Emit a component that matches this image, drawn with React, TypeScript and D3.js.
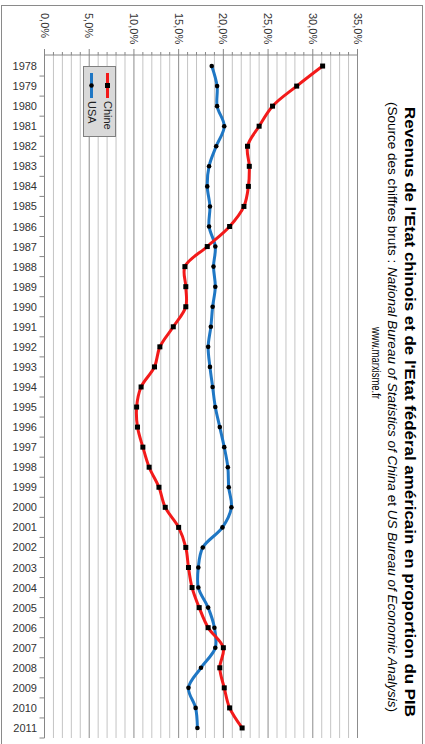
import React from "react";
import * as d3 from "d3";

const years = [1978,1979,1980,1981,1982,1983,1984,1985,1986,1987,1988,1989,1990,1991,1992,1993,1994,1995,1996,1997,1998,1999,2000,2001,2002,2003,2004,2005,2006,2007,2008,2009,2010,2011];
const chine = [31.1,28.2,25.5,24.0,22.7,22.9,22.8,22.3,20.7,18.2,15.7,15.8,15.8,14.4,12.9,12.3,10.8,10.3,10.4,11.0,11.7,12.8,13.5,15.0,15.8,16.1,16.5,17.3,18.3,20.0,19.6,20.1,20.7,22.1];
const usa = [18.7,19.3,19.3,20.1,19.2,18.4,18.2,18.5,18.4,19.1,18.9,19.1,18.8,18.6,18.3,18.5,18.8,19.1,19.6,20.1,20.5,20.6,20.9,19.9,17.7,17.2,17.2,18.3,19.0,19.1,17.5,16.1,16.9,17.1];
const majorTicks = [0,5,10,15,20,25,30,35];
const tickLabels = ["0,0%","5,0%","10,0%","15,0%","20,0%","25,0%","30,0%","35,0%"];
const seriesNames = ["Chine","USA"];
const title = "Revenus de l'Etat chinois et de l'Etat fédéral américain en proportion du PIB";
const website = "www.marxisme.fr";

export default function App() {
  const x = d3.scaleLinear().domain([0, 35]).range([44.5, 357.5]);
  const y = d3.scaleBand<number>().domain(years).range([56, 738]).padding(0);
  const bw = y.bandwidth();
  const cy = (yr: number) => (y(yr) as number) + bw / 2;
  const line = d3.line<number>()
    .x((d) => x(d))
    .y((_, i) => cy(years[i]))
    .curve(d3.curveCatmullRom.alpha(0.5));
  const minor = d3.range(1, 35).filter((v) => v % 5 !== 0);
  const font = "'Liberation Sans', Arial, sans-serif";
  const top = 55, bottom = 738;

  return (
    <svg width={425} height={744} style={{ position: "absolute", left: 0, top: 0, background: "#fff" }} fontFamily={font}>
      <rect x={1.5} y={5.5} width={421} height={745} fill="#fff" stroke="#8a8a8a" strokeWidth={1} />
      {/* gridlines */}
      {minor.map((v) => (
        <g key={"m" + v}>
          <line x1={x(v)} x2={x(v)} y1={top} y2={bottom} stroke="#c4c4c4" strokeWidth={1} />
          <line x1={x(v)} x2={x(v)} y1={top - 3} y2={top} stroke="#868686" strokeWidth={1} />
        </g>
      ))}
      {majorTicks.map((v, i) => (
        <g key={"M" + v}>
          {v > 0 && <line x1={x(v)} x2={x(v)} y1={top} y2={bottom} stroke="#8c8c8c" strokeWidth={1} />}
          <line x1={x(v)} x2={x(v)} y1={top - 6} y2={top} stroke="#868686" strokeWidth={1} />
          <text transform={`translate(${x(v)},13) rotate(90)`} fontSize={11} fill="#333" dominantBaseline="central">
            {tickLabels[i]}
          </text>
        </g>
      ))}
      {/* axes */}
      <line x1={x(0)} x2={x(35)} y1={top} y2={top} stroke="#868686" strokeWidth={1} />
      <line x1={x(0)} x2={x(0)} y1={top} y2={bottom} stroke="#868686" strokeWidth={1} />
      {years.map((yr) => (
        <g key={yr}>
          <line x1={x(0) - 5} x2={x(0)} y1={(y(yr) as number) + bw} y2={(y(yr) as number) + bw} stroke="#868686" />
          <text x={37} y={cy(yr)} fontSize={11} fill="#333" textAnchor="end" dominantBaseline="central">{yr}</text>
        </g>
      ))}
      {/* series */}
      <path d={line(usa) || ""} fill="none" stroke="#1f77c4" strokeWidth={3} />
      <path d={line(chine) || ""} fill="none" stroke="#f21a1a" strokeWidth={3} />
      {usa.map((v, i) => (
        <circle key={"u" + i} cx={x(v)} cy={cy(years[i])} r={2.3} fill="#000" />
      ))}
      {chine.map((v, i) => (
        <rect key={"c" + i} x={x(v) - 2.5} y={cy(years[i]) - 2.5} width={5} height={5} fill="#000" />
      ))}
      {/* legend */}
      <rect x={83.5} y={66.5} width={32} height={70} fill="#d9d9d9" stroke="#7f7f7f" strokeWidth={1} />
      <line x1={107.5} x2={107.5} y1={73} y2={98} stroke="#f21a1a" strokeWidth={3} />
      <rect x={105} y={83} width={5} height={5} fill="#000" />
      <text transform={`translate(107.5,101) rotate(90)`} fontSize={11} fill="#222" dominantBaseline="central">{seriesNames[0]}</text>
      <line x1={91.5} x2={91.5} y1={73} y2={98} stroke="#1f77c4" strokeWidth={3} />
      <circle cx={91.5} cy={85.5} r={2.3} fill="#000" />
      <text transform={`translate(91.5,101) rotate(90)`} fontSize={11} fill="#222" dominantBaseline="central">{seriesNames[1]}</text>
      {/* titles */}
      <text transform={`translate(410,107) rotate(90)`} fontSize={15.5} fontWeight="bold" fill="#000" dominantBaseline="central" textLength={610} lengthAdjust="spacingAndGlyphs">
        {title}
      </text>
      <text transform={`translate(391.5,102) rotate(90)`} fontSize={12} fill="#000" dominantBaseline="central" textLength={610} lengthAdjust="spacingAndGlyphs">
        <tspan>(Source des chiffres bruts : </tspan>
        <tspan fontStyle="italic">National Bureau of Statistics of China</tspan>
        <tspan> et </tspan>
        <tspan fontStyle="italic">US Bureau of Economic Analysis</tspan>
        <tspan>)</tspan>
      </text>
      <text transform={`translate(376,327) rotate(90)`} fontSize={12} fill="#000" dominantBaseline="central" textLength={72} lengthAdjust="spacingAndGlyphs">
        {website}
      </text>
    </svg>
  );
}
